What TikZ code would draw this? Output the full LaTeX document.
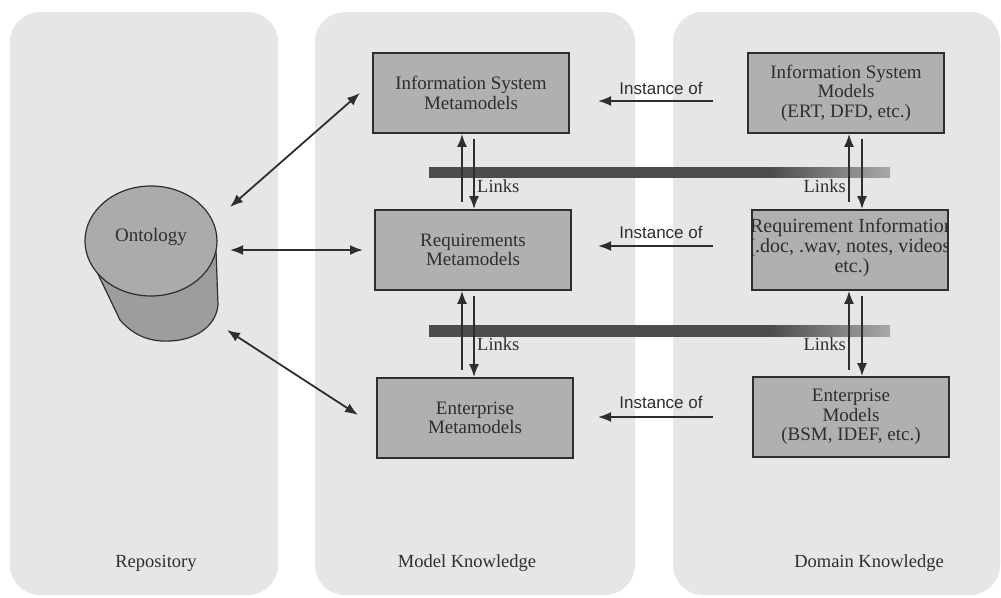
\documentclass[tikz,border=0pt]{standalone}
\usepackage{fontspec}
\setmainfont{Liberation Serif}
\newfontfamily\sansf{Liberation Sans}
\usetikzlibrary{arrows.meta}
\definecolor{panel}{HTML}{E6E6E6}
\definecolor{boxfill}{HTML}{B0B0B0}
\definecolor{ink}{HTML}{2E2E2E}
\definecolor{bardark}{HTML}{4C4C4C}
\definecolor{barlight}{HTML}{A8A8A8}
\definecolor{onto}{HTML}{ABABAB}
\pgfdeclarehorizontalshading{barshade}{100bp}{color(0bp)=(bardark); color(62bp)=(bardark); color(75bp)=(barlight); color(100bp)=(barlight)}
\begin{document}
\begin{tikzpicture}[x=1pt,y=-1pt,
 panelbox/.style={fill=panel, rounded corners=30pt},
 modelbox/.style={draw=ink, line width=1.8pt, fill=boxfill, minimum width=196pt, minimum height=80pt, inner sep=0pt, align=center, font=\fontsize{19}{19.5}\selectfont, text=ink},
 conn/.style={draw=ink, line width=1.8pt, -{Latex[length=13pt,width=10pt]}},
 dconn/.style={draw=ink, line width=1.8pt, {Latex[length=13pt,width=10pt]}-{Latex[length=13pt,width=10pt]}},
 lbl/.style={font=\fontsize{18.5}{20}\selectfont, text=ink, inner sep=0pt},
 inst/.style={font=\sansf\fontsize{17}{20}\selectfont, text=ink, inner sep=0pt},
 linkbar/.style={shading=barshade}]

\useasboundingbox (0,0) rectangle (1001,597);
\fill[white] (0,0) rectangle (1001,597);

% panels
\path[panelbox] (10,12) rectangle (278,595);
\path[panelbox] (315,12) rectangle (635,595);
\path[panelbox] (673,12) rectangle (1000,595);

% panel labels
\node[lbl] (lrep) at (156,563) {Repository};
\node[lbl] (lmod) at (467,563) {Model Knowledge};
\node[lbl] (ldom) at (869,563) {Domain Knowledge};

% bars
\shade[linkbar] (429,167) rectangle (890,177);
\shade[linkbar] (429,325) rectangle (890,336);

% ontology cylinder
\fill[onto!92!black] (97,272) -- (120,320) .. controls (135,337) and (152,342) .. (170,341)
  .. controls (196,340) and (216,326) .. (218,305) -- (216,250) -- (151,241) -- cycle;
\draw[ink, line width=1.2pt] (97,272) -- (120,320) .. controls (135,337) and (152,342) .. (170,341)
  .. controls (196,340) and (216,326) .. (218,305) -- (216,250);
\filldraw[fill=onto, draw=ink, line width=1.2pt] (151,241) ellipse [x radius=66pt, y radius=55pt];
\node[font=\fontsize{19}{20}\selectfont, text=ink] (onto) at (151,237) {Ontology};

% model boxes
\node[modelbox] (ism) at (471,93) {Information System\\Metamodels};
\node[modelbox] (rm) at (473,250) {Requirements\\Metamodels};
\node[modelbox] (em) at (475,418) {Enterprise\\Metamodels};

\node[modelbox] (ismod) at (846,93) {Information System\\Models\\(ERT, DFD, etc.)};
\node[modelbox, path picture={\node[align=center, font=\fontsize{20}{20}\selectfont, text=ink] at ([xshift=2pt,yshift=2pt]path picture bounding box.center) {Requirement Information\\(.doc, .wav, notes, videos,\\etc.)};}] (ri) at (850,250) {};
\node[modelbox] (entm) at (851,417) {Enterprise\\Models\\(BSM, IDEF, etc.)};

% links arrows (middle)
\coordinate (m1u) at (462,202);
\coordinate (m1d) at (474,139);
\coordinate (m2u) at (462,370);
\coordinate (m2d) at (474,296);
\draw[conn] (m1u) -- (m1u |- ism.south);
\draw[conn] (m1d) -- (m1d |- rm.north);
\draw[conn] (m2u) -- (m2u |- rm.south);
\draw[conn] (m2d) -- (m2d |- em.north);

% links arrows (right)
\coordinate (r1u) at (849,202);
\coordinate (r1d) at (862,139);
\coordinate (r2u) at (849,370);
\coordinate (r2d) at (862,296);
\draw[conn] (r1u) -- (r1u |- ismod.south);
\draw[conn] (r1d) -- (r1d |- ri.north);
\draw[conn] (r2u) -- (r2u |- ri.south);
\draw[conn] (r2d) -- (r2d |- entm.north);

\node[lbl, anchor=west] (lk1) at (477,186) {Links};
\node[lbl, anchor=east] (lk2) at (846,186) {Links};
\node[lbl, anchor=west] (lk3) at (477,344) {Links};
\node[lbl, anchor=east] (lk4) at (846,344) {Links};

% instance of arrows
\coordinate (i1s) at (713,101);
\coordinate (i1e) at (598,101);
\coordinate (i2s) at (713,246);
\coordinate (i2e) at (598,246);
\coordinate (i3s) at (713,417);
\coordinate (i3e) at (598,417);
\draw[conn] (i1s) -- (i1e);
\draw[conn] (i2s) -- (i2e);
\draw[conn] (i3s) -- (i3e);
\node[inst] (t1) at (661,88) {Instance of};
\node[inst] (t2) at (661,232) {Instance of};
\node[inst] (t3) at (661,402) {Instance of};

% ontology links
\coordinate (o1) at (230,207);
\coordinate (o2) at (230,250);
\coordinate (o3) at (227,330);
\coordinate (d1) at (360,93);
\coordinate (d2) at (363,250);
\coordinate (d3) at (358,415);
\draw[dconn] (o1) -- (d1);
\draw[dconn] (o2) -- (d2);
\draw[dconn] (o3) -- (d3);
\end{tikzpicture}
\end{document}
